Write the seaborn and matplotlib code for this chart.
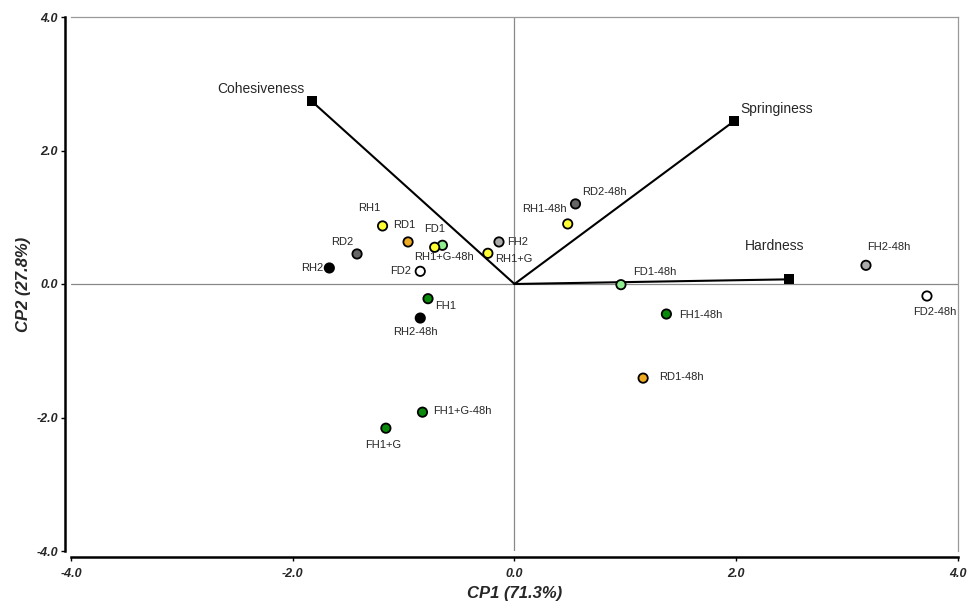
import numpy as np
import pandas as pd
import matplotlib
matplotlib.use('Agg')
import matplotlib.pyplot as plt
import seaborn as sns

# Sample scores (CP1, CP2)
samples = ['RH1', 'RD1', 'FD1', 'RH1+G-48h', 'RD2', 'RH2', 'FD2', 'FH2', 'RH1+G',
           'FH1', 'RH2-48h', 'RD2-48h', 'RH1-48h', 'FD1-48h', 'FH1-48h', 'RD1-48h',
           'FH2-48h', 'FD2-48h', 'FH1+G-48h', 'FH1+G']
cp1 = [-1.19, -0.96, -0.65, -0.72, -1.42, -1.67, -0.85, -0.14, -0.24,
       -0.78, -0.85, 0.55, 0.48, 0.96, 1.37, 1.16,
       3.17, 3.72, -0.83, -1.16]
cp2 = [0.87, 0.63, 0.58, 0.55, 0.45, 0.24, 0.19, 0.63, 0.46,
       -0.22, -0.51, 1.20, 0.90, -0.01, -0.45, -1.41,
       0.28, -0.18, -1.92, -2.16]
groups = ['RH1', 'RD1', 'FD1', 'RH1', 'RD2', 'RH2', 'FD2', 'FH2', 'RH1',
          'FH1', 'RH2', 'RD2', 'RH1', 'FD1', 'FH1', 'RD1',
          'FH2', 'FD2', 'FH1', 'FH1']

# Variable loadings
variables = ['Cohesiveness', 'Springiness', 'Hardness']
load1 = [-1.83, 1.98, 2.48]
load2 = [2.74, 2.44, 0.07]

palette = {'RH1': '#ffff33', 'RD1': '#eeaa22', 'FD1': '#90ee90', 'FH1': '#0a8a0a',
           'RD2': '#666666', 'RH2': '#000000', 'FD2': '#ffffff', 'FH2': '#aaaaaa'}

# label offsets in pixels (dx, dy, ha)
label_pos = {
    'RH1': (-13, 18, 'center'), 'RD1': (-4, 17, 'center'), 'FD1': (-8, 16, 'center'),
    'RH1+G-48h': (9, -10, 'center'), 'RD2': (-15, 12, 'center'), 'RH2': (-6, 0, 'right'),
    'FD2': (-9, 0, 'right'), 'FH2': (8, 0, 'left'), 'RH1+G': (7, -6, 'left'),
    'FH1': (7, -7, 'left'), 'RH2-48h': (-5, -14, 'center'), 'RD2-48h': (7, 12, 'left'),
    'RH1-48h': (-1, 15, 'right'), 'FD1-48h': (12, 13, 'left'), 'FH1-48h': (13, -1, 'left'),
    'RD1-48h': (16, 1, 'left'), 'FH2-48h': (1, 18, 'left'), 'FD2-48h': (8, -16, 'center'),
    'FH1+G-48h': (11, 1, 'left'), 'FH1+G': (-3, -17, 'center'),
}
var_pos = {'Cohesiveness': (-7, 12, 'right'), 'Springiness': (6, 12, 'left'),
           'Hardness': (-15, 33, 'center')}

df = pd.DataFrame({'sample': samples, 'CP1': cp1, 'CP2': cp2, 'group': groups})
ld = pd.DataFrame({'var': variables, 'CP1': load1, 'CP2': load2})

sns.set_style('white')
plt.rcParams['font.family'] = ['Liberation Sans', 'DejaVu Sans']

fig = plt.figure(figsize=(9.78, 6.03), dpi=100)
ax = fig.add_axes([71 / 978, 52 / 603, 887 / 978, 534 / 603])

# spines first (set_position resets the ticks)
for s in ['left', 'bottom']:
    ax.spines[s].set_position(('outward', 4.5))
    ax.spines[s].set_color('black')
    ax.spines[s].set_linewidth(1.8)
for s in ['top', 'right']:
    ax.spines[s].set_color('#999999')
    ax.spines[s].set_linewidth(0.9)

ax.axhline(0, color='#888888', lw=0.9, zorder=1)
ax.axvline(0, color='#888888', lw=0.9, zorder=1)

for x, y in zip(load1, load2):
    ax.plot([0, x], [0, y], color='black', lw=1.5, zorder=2)
sns.scatterplot(data=ld, x='CP1', y='CP2', marker='s', color='black', s=50,
                edgecolor='black', linewidth=0, ax=ax, zorder=3, legend=False)

sns.scatterplot(data=df, x='CP1', y='CP2', hue='group', palette=palette, s=45,
                edgecolor='black', linewidth=1.3, ax=ax, zorder=4, legend=False)

px = 0.72  # pixel -> point
for name, x, y in zip(samples, cp1, cp2):
    dx, dy, ha = label_pos[name]
    ax.annotate(name, (x, y), xytext=(dx * px, dy * px), textcoords='offset points',
                ha=ha, va='center', fontsize=8, zorder=5)
for name, x, y in zip(variables, load1, load2):
    dx, dy, ha = var_pos[name]
    ax.annotate(name, (x, y), xytext=(dx * px, dy * px), textcoords='offset points',
                ha=ha, va='center', fontsize=10, zorder=5)

ax.set_xlim(-4, 4)
ax.set_ylim(-4, 4)
ticks = [-4, -2, 0, 2, 4]
tick_font = dict(fontsize=9, fontweight='bold', fontstyle='italic')
ax.set_xticks(ticks, [f'{t:.1f}' for t in ticks], **tick_font)
ax.set_yticks(ticks, [f'{t:.1f}' for t in ticks], **tick_font)
ax.tick_params(axis='both', direction='out', length=3, width=1, color='black',
               bottom=True, left=True)
ax.tick_params(axis='x', pad=5)
ax.tick_params(axis='y', pad=2)

ax.set_xlabel('CP1 (71.3%)', fontsize=12, fontweight='bold', style='italic', labelpad=4)
ax.set_ylabel('CP2 (27.8%)', fontsize=12, fontweight='bold', style='italic', labelpad=4)

fig.savefig('out.png', dpi=100)
